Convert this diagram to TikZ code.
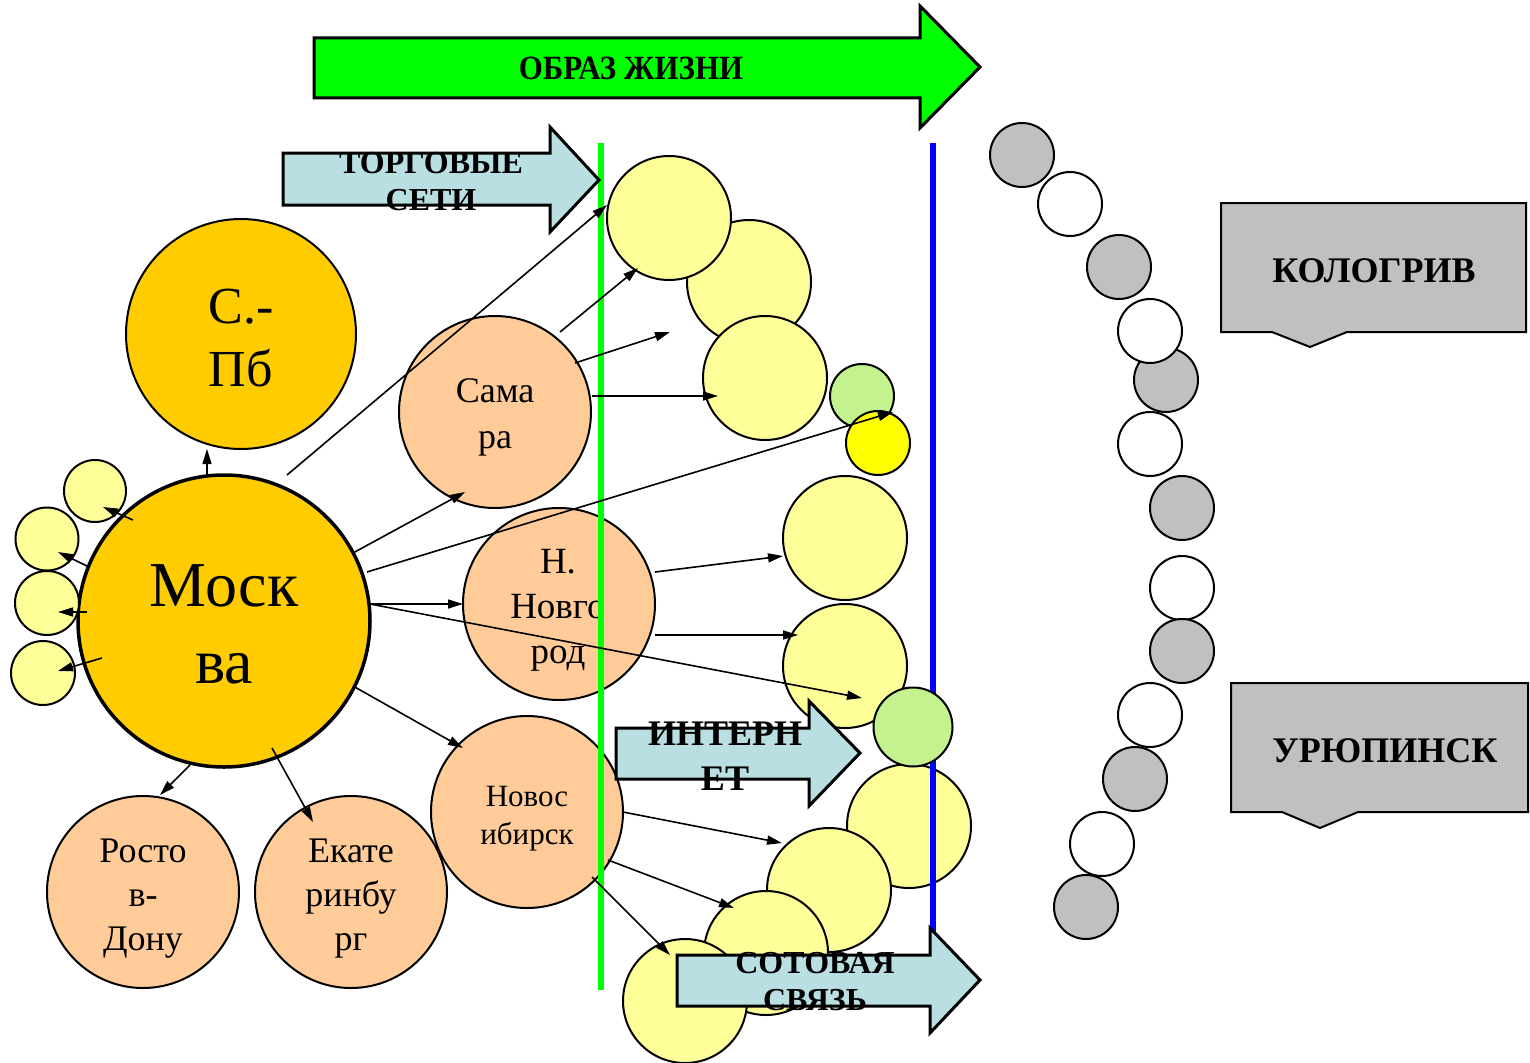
\documentclass[tikz,border=0pt]{standalone}
\usepackage{fontspec}
\usepackage{graphicx}
\setmainfont{Liberation Serif}
\usetikzlibrary{calc,arrows.meta}
\definecolor{gold}{HTML}{FFCC00}
\definecolor{peach}{HTML}{FFCC99}
\definecolor{pale}{HTML}{FFFF99}
\definecolor{brightyel}{HTML}{FFFF00}
\definecolor{lgreen}{HTML}{C4F28E}
\definecolor{greyc}{HTML}{C0C0C0}
\definecolor{lblue}{HTML}{B9DFE3}
\definecolor{vgreen}{HTML}{00FF00}
\definecolor{vblue}{HTML}{0000FF}
\newcommand\mlines[1]{\vtop{\halign{\hfil##\hfil\cr#1\crcr}}}
\begin{document}
\begin{tikzpicture}[x=1pt,y=-1pt,
  circ/.style={circle, draw, inner sep=0pt, outer sep=0pt, line width=2pt},
  conn/.style={line width=1.6pt, -{Triangle[length=15pt,width=9pt]}},
  txt/.style={anchor=base, inner sep=0pt, outer sep=0pt},
  blockarrow/.style={draw, line width=3pt, line join=miter},
  callout/.style={draw, fill=greyc, line width=2pt, line join=miter},
  city/.style={circ, fill=peach, minimum size=192pt},
  bub/.style={circ, fill=pale, minimum size=124pt},
  gball/.style={circ, fill=greyc, minimum size=64pt},
  wball/.style={circ, fill=white, minimum size=64pt},
]
\fill[white] (0,0) rectangle (1530,1062);
\useasboundingbox (0,0) rectangle (1530,1062);

% top green arrow
\filldraw[blockarrow, fill=vgreen] (314,38) -- (920,38) -- (920,6) -- (980,67) -- (920,128) -- (920,98) -- (314,98) -- cycle;
\node[txt, font=\fontsize{34}{40}\selectfont\bfseries] (obraz) at (631,80) {\scalebox{0.91}[1]{ОБРАЗ ЖИЗНИ}};

% main circles
\node[circ, fill=gold, minimum size=230pt] (spb) at (241,334) {};
\node[circ, fill=gold, minimum size=292pt, line width=3.5pt] (msk) at (224,621) {};
\node[circ, fill=pale, minimum size=62pt] (s1) at (95,491) {};
\node[circ, fill=pale, minimum size=63pt] (s2) at (47,539) {};
\node[circ, fill=pale, minimum size=64pt] (s3) at (47,603) {};
\node[circ, fill=pale, minimum size=64pt] (s4) at (43,673) {};
\node[city] (sam) at (495,412) {};
\node[city] (nov) at (559,604) {};
\node[city] (nsb) at (527,812) {};
\node[city] (ros) at (143,892) {};
\node[city] (ekb) at (351,892) {};

% city texts
\node[txt, font=\fontsize{64}{77}\selectfont] (msktxt) at (224,606) {\mlines{Моск\cr ва}};
\node[txt, font=\fontsize{52}{63}\selectfont] (spbtxt) at (241,323) {\mlines{С.-\cr Пб}};
\node[txt, font=\fontsize{36}{46}\selectfont] (samtxt) at (495,402) {\mlines{Сама\cr ра}};
\node[txt, font=\fontsize{37}{45}\selectfont] (novtxt) at (558,573) {\mlines{Н.\cr Новго\cr род}};
\node[txt, font=\fontsize{31}{38}\selectfont] (nsbtxt) at (527,806) {\mlines{Новос\cr ибирск}};
\node[txt, font=\fontsize{36}{44}\selectfont] (rostxt) at (143,862) {\mlines{Росто\cr в-\cr Дону}};
\node[txt, font=\fontsize{36}{44}\selectfont] (ekbtxt) at (351,862) {\mlines{Екате\cr ринбу\cr рг}};

% right column bubbles
\node[bub] (B) at (749,282) {};
\node[bub] (A) at (669,218) {};
\node[bub] (C) at (765,378) {};
\node[circ, fill=lgreen, minimum size=64pt] (gA) at (862,396) {};
\node[circ, fill=brightyel, minimum size=64pt] (Y) at (878,443) {};
\node[bub] (D) at (845,538) {};
\node[bub] (E) at (845,666) {};
\node[bub] (F) at (909,826) {};
\node[bub] (G) at (829,890) {};
\node[bub] (H) at (766,953) {};
\node[bub] (I) at (685,1001) {};

% vertical lines
\draw[vgreen, line width=6pt] (601,143) -- (601,990);
\draw[vblue, line width=6pt] (933,143) -- (933,990);
\node[circ, fill=lgreen, minimum size=79pt] (gB) at (913,727) {};

% grey / white balls
\node[gball] (g1) at (1022,155) {};
\node[wball] (w1) at (1070,204) {};
\node[gball] (g2) at (1119,267) {};
\node[gball] (g3) at (1166,380) {};
\node[wball] (w2) at (1150,331) {};
\node[wball] (w3) at (1150,444) {};
\node[gball] (g4) at (1182,508) {};
\node[wball] (w4) at (1182,588) {};
\node[gball] (g5) at (1182,651) {};
\node[wball] (w5) at (1150,715) {};
\node[gball] (g6) at (1135,779) {};
\node[wball] (w6) at (1102,844) {};
\node[gball] (g7) at (1086,907) {};

% callouts
\filldraw[callout] (1221,203) -- (1526,203) -- (1526,332) -- (1347,332) -- (1310,347) -- (1272,332) -- (1221,332) -- cycle;
\node[txt, font=\fontsize{36}{40}\selectfont\bfseries] (kol) at (1374,282) {КОЛОГРИВ};
\filldraw[callout] (1231,683) -- (1528,683) -- (1528,812) -- (1358,812) -- (1320,828) -- (1282,812) -- (1231,812) -- cycle;
\node[txt, font=\fontsize{36}{40}\selectfont\bfseries] (ury) at (1385,762) {УРЮПИНСК};

% connectors
\draw[conn] ($(msk)+(-17,-146)$) -- ($(spb)+(-34,115)$);
\draw[conn] ($(msk)+(-91,-101)$) -- ($(s1)+(8,16)$);
\draw[conn] ($(msk)+(-137,-55)$) -- ($(s2)+(11,13)$);
\draw[conn] ($(msk)+(-137,-9)$) -- ($(s3)+(11,9)$);
\draw[conn] ($(msk)+(-122,37)$) -- ($(s4)+(15,-2)$);
\draw[conn] ($(msk)+(63,-146)$) -- ($(A)+(-62,-13)$);
\draw[conn] ($(msk)+(129,-68)$) -- ($(sam)+(-30,80)$);
\draw[conn] ($(msk)+(143,-49)$) -- ($(Y)+(15,-31)$);
\draw[conn] ($(msk)+(146,-17)$) -- ($(nov)+(-96,0)$);
\draw[conn] ($(msk)+(146,-17)$) -- ($(gB)+(-51,-29)$);
\draw[conn] ($(msk)+(129,65)$) -- ($(nsb)+(-64,-64)$);
\draw[conn] ($(msk)+(48,127)$) -- ($(ekb)+(-38,-70)$);
\draw[conn] ($(msk)+(-34,144)$) -- ($(ros)+(17,-97)$);
\draw[conn] ($(sam)+(65,-80)$) -- ($(A)+(-31,50)$);
\draw[conn] ($(sam)+(80,-49)$) -- ($(B)+(-79,50)$);
\draw[conn] ($(sam)+(97,-16)$) -- ($(C)+(-47,18)$);
\draw[conn] ($(nov)+(96,-32)$) -- ($(D)+(-62,18)$);
\draw[conn] ($(nov)+(96,31)$) -- ($(E)+(-47,-31)$);
\draw[conn] ($(nsb)+(96,0)$) -- ($(G)+(-47,-47)$);
\draw[conn] ($(nsb)+(81,48)$) -- ($(H)+(-32,-45)$);
\draw[conn] ($(nsb)+(65,65)$) -- ($(I)+(-15,-46)$);

% block arrows
\filldraw[blockarrow, fill=lblue] (283,153) -- (550,153) -- (550,127) -- (599,180) -- (550,232) -- (550,205) -- (283,205) -- cycle;
\node[txt, font=\fontsize{32}{37}\selectfont\bfseries] (torg) at (431,173) {\mlines{ТОРГОВЫЕ\cr СЕТИ}};
\filldraw[blockarrow, fill=lblue] (616,728) -- (809,728) -- (809,701) -- (860,753) -- (809,806) -- (809,779) -- (616,779) -- cycle;
\node[txt, font=\fontsize{36}{45}\selectfont\bfseries] (inet) at (725,745) {\mlines{ИНТЕРН\cr ЕТ}};
\filldraw[blockarrow, fill=lblue] (677,955) -- (930,955) -- (930,928) -- (980,980) -- (930,1033) -- (930,1006) -- (677,1006) -- cycle;
\node[txt, font=\fontsize{32}{37}\selectfont\bfseries] (sot) at (815,973) {\mlines{СОТОВАЯ\cr СВЯЗЬ}};
\end{tikzpicture}
\end{document}
